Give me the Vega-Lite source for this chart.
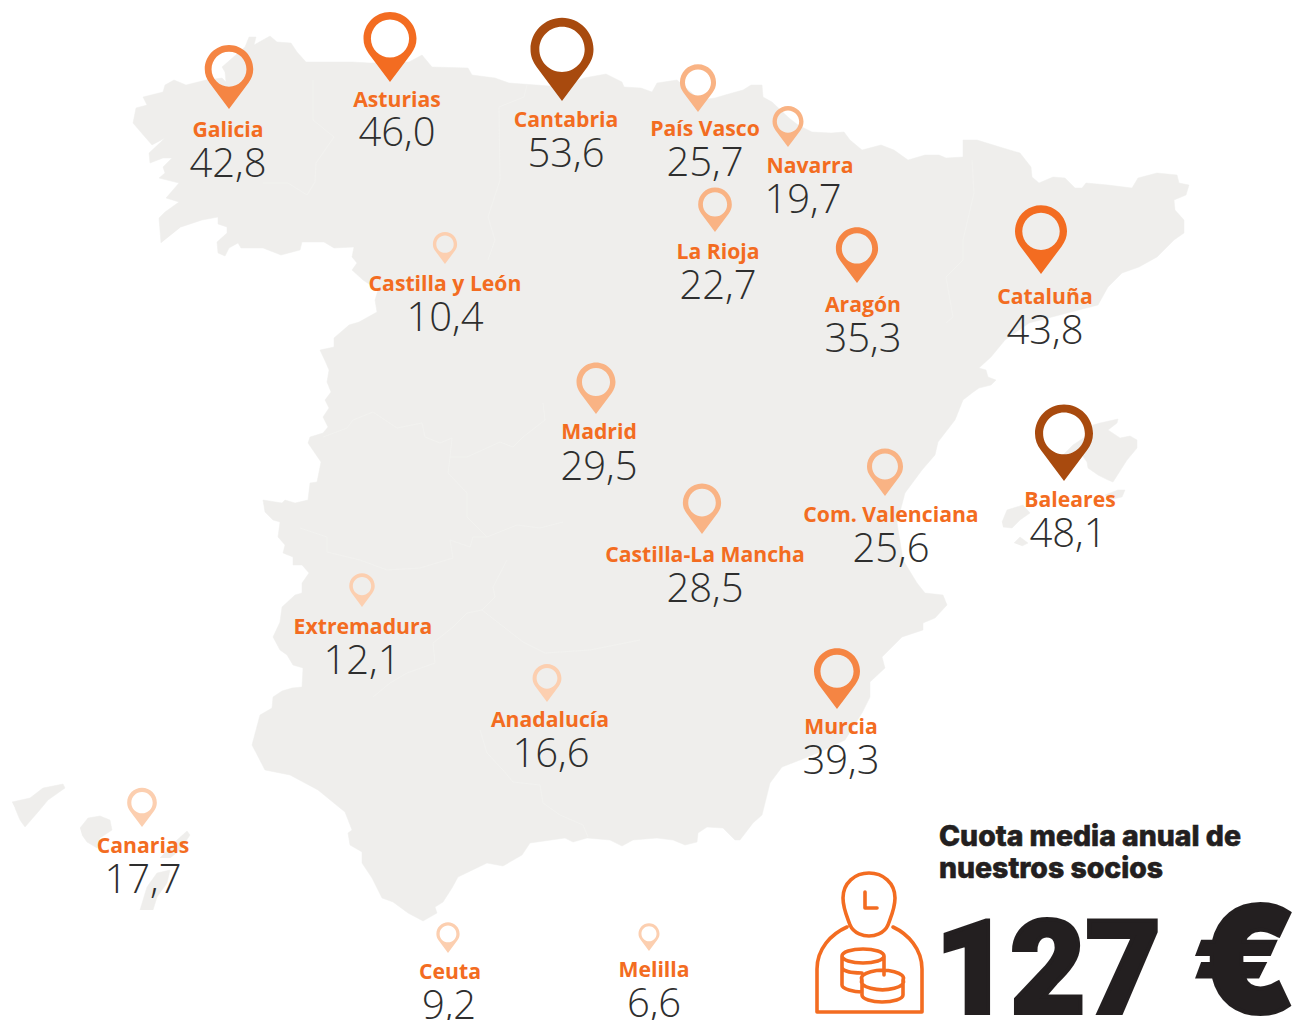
{"$schema":"https://vega.github.io/schema/vega-lite/v6.json","width":1296,"height":1020,"autosize":{"type":"none"},"padding":0,"background":"#ffffff","config":{"view":{"stroke":null},"locale":{"number":{"decimal":",","thousands":".","grouping":[3],"currency":["","€"]}}},
"datasets":{
"land":[
{"part":"Peninsula","x":161,"y":243},{"part":"Peninsula","x":159,"y":218},{"part":"Peninsula","x":165,"y":212},{"part":"Peninsula","x":179,"y":202},{"part":"Peninsula","x":166,"y":198},{"part":"Peninsula","x":179,"y":183},{"part":"Peninsula","x":159,"y":178},{"part":"Peninsula","x":165,"y":173},{"part":"Peninsula","x":163,"y":167},{"part":"Peninsula","x":172,"y":158},{"part":"Peninsula","x":163,"y":158},{"part":"Peninsula","x":150,"y":163},{"part":"Peninsula","x":149,"y":153},{"part":"Peninsula","x":165,"y":138},{"part":"Peninsula","x":152,"y":145},{"part":"Peninsula","x":145,"y":137},{"part":"Peninsula","x":133,"y":123},{"part":"Peninsula","x":136,"y":108},{"part":"Peninsula","x":147,"y":105},{"part":"Peninsula","x":143,"y":97},{"part":"Peninsula","x":163,"y":92},{"part":"Peninsula","x":165,"y":85},{"part":"Peninsula","x":174,"y":80},{"part":"Peninsula","x":186,"y":85},{"part":"Peninsula","x":206,"y":80},{"part":"Peninsula","x":222,"y":78},{"part":"Peninsula","x":226,"y":82},{"part":"Peninsula","x":225,"y":72},{"part":"Peninsula","x":222,"y":67},{"part":"Peninsula","x":238,"y":53},{"part":"Peninsula","x":245,"y":47},{"part":"Peninsula","x":249,"y":37},{"part":"Peninsula","x":256,"y":37},{"part":"Peninsula","x":254,"y":45},{"part":"Peninsula","x":270,"y":36},{"part":"Peninsula","x":277,"y":42},{"part":"Peninsula","x":291,"y":43},{"part":"Peninsula","x":297,"y":52},{"part":"Peninsula","x":306,"y":62},{"part":"Peninsula","x":352,"y":62},{"part":"Peninsula","x":370,"y":63},{"part":"Peninsula","x":409,"y":62},{"part":"Peninsula","x":422,"y":55},{"part":"Peninsula","x":432,"y":67},{"part":"Peninsula","x":468,"y":68},{"part":"Peninsula","x":472,"y":75},{"part":"Peninsula","x":495,"y":78},{"part":"Peninsula","x":509,"y":83},{"part":"Peninsula","x":563,"y":87},{"part":"Peninsula","x":584,"y":78},{"part":"Peninsula","x":606,"y":74},{"part":"Peninsula","x":622,"y":82},{"part":"Peninsula","x":624,"y":87},{"part":"Peninsula","x":641,"y":88},{"part":"Peninsula","x":652,"y":92},{"part":"Peninsula","x":657,"y":83},{"part":"Peninsula","x":677,"y":80},{"part":"Peninsula","x":700,"y":100},{"part":"Peninsula","x":715,"y":98},{"part":"Peninsula","x":725,"y":95},{"part":"Peninsula","x":743,"y":90},{"part":"Peninsula","x":751,"y":85},{"part":"Peninsula","x":762,"y":85},{"part":"Peninsula","x":763,"y":97},{"part":"Peninsula","x":772,"y":102},{"part":"Peninsula","x":789,"y":118},{"part":"Peninsula","x":798,"y":125},{"part":"Peninsula","x":812,"y":132},{"part":"Peninsula","x":831,"y":133},{"part":"Peninsula","x":844,"y":132},{"part":"Peninsula","x":850,"y":140},{"part":"Peninsula","x":862,"y":150},{"part":"Peninsula","x":881,"y":145},{"part":"Peninsula","x":894,"y":150},{"part":"Peninsula","x":908,"y":160},{"part":"Peninsula","x":925,"y":155},{"part":"Peninsula","x":939,"y":155},{"part":"Peninsula","x":946,"y":158},{"part":"Peninsula","x":963,"y":157},{"part":"Peninsula","x":963,"y":140},{"part":"Peninsula","x":977,"y":140},{"part":"Peninsula","x":1003,"y":148},{"part":"Peninsula","x":1020,"y":153},{"part":"Peninsula","x":1031,"y":167},{"part":"Peninsula","x":1032,"y":177},{"part":"Peninsula","x":1039,"y":183},{"part":"Peninsula","x":1053,"y":177},{"part":"Peninsula","x":1065,"y":178},{"part":"Peninsula","x":1075,"y":188},{"part":"Peninsula","x":1082,"y":188},{"part":"Peninsula","x":1086,"y":183},{"part":"Peninsula","x":1108,"y":185},{"part":"Peninsula","x":1132,"y":188},{"part":"Peninsula","x":1138,"y":178},{"part":"Peninsula","x":1157,"y":173},{"part":"Peninsula","x":1177,"y":175},{"part":"Peninsula","x":1179,"y":183},{"part":"Peninsula","x":1189,"y":185},{"part":"Peninsula","x":1186,"y":195},{"part":"Peninsula","x":1174,"y":200},{"part":"Peninsula","x":1175,"y":210},{"part":"Peninsula","x":1184,"y":220},{"part":"Peninsula","x":1184,"y":233},{"part":"Peninsula","x":1174,"y":240},{"part":"Peninsula","x":1157,"y":257},{"part":"Peninsula","x":1139,"y":267},{"part":"Peninsula","x":1122,"y":273},{"part":"Peninsula","x":1108,"y":287},{"part":"Peninsula","x":1098,"y":305},{"part":"Peninsula","x":1029,"y":323},{"part":"Peninsula","x":1005,"y":340},{"part":"Peninsula","x":991,"y":357},{"part":"Peninsula","x":979,"y":368},{"part":"Peninsula","x":986,"y":370},{"part":"Peninsula","x":988,"y":377},{"part":"Peninsula","x":996,"y":380},{"part":"Peninsula","x":991,"y":385},{"part":"Peninsula","x":979,"y":388},{"part":"Peninsula","x":972,"y":393},{"part":"Peninsula","x":963,"y":400},{"part":"Peninsula","x":955,"y":420},{"part":"Peninsula","x":938,"y":442},{"part":"Peninsula","x":935,"y":455},{"part":"Peninsula","x":922,"y":470},{"part":"Peninsula","x":905,"y":493},{"part":"Peninsula","x":897,"y":523},{"part":"Peninsula","x":903,"y":560},{"part":"Peninsula","x":917,"y":583},{"part":"Peninsula","x":925,"y":593},{"part":"Peninsula","x":943,"y":595},{"part":"Peninsula","x":947,"y":605},{"part":"Peninsula","x":935,"y":618},{"part":"Peninsula","x":923,"y":623},{"part":"Peninsula","x":923,"y":630},{"part":"Peninsula","x":902,"y":637},{"part":"Peninsula","x":882,"y":657},{"part":"Peninsula","x":885,"y":668},{"part":"Peninsula","x":870,"y":682},{"part":"Peninsula","x":870,"y":697},{"part":"Peninsula","x":862,"y":713},{"part":"Peninsula","x":845,"y":740},{"part":"Peninsula","x":820,"y":752},{"part":"Peninsula","x":800,"y":760},{"part":"Peninsula","x":782,"y":767},{"part":"Peninsula","x":770,"y":783},{"part":"Peninsula","x":762,"y":815},{"part":"Peninsula","x":753,"y":823},{"part":"Peninsula","x":740,"y":840},{"part":"Peninsula","x":735,"y":840},{"part":"Peninsula","x":723,"y":828},{"part":"Peninsula","x":707,"y":827},{"part":"Peninsula","x":698,"y":833},{"part":"Peninsula","x":697,"y":842},{"part":"Peninsula","x":685,"y":845},{"part":"Peninsula","x":673,"y":840},{"part":"Peninsula","x":657,"y":838},{"part":"Peninsula","x":633,"y":840},{"part":"Peninsula","x":622,"y":846},{"part":"Peninsula","x":610,"y":840},{"part":"Peninsula","x":587,"y":838},{"part":"Peninsula","x":573,"y":842},{"part":"Peninsula","x":565,"y":838},{"part":"Peninsula","x":530,"y":843},{"part":"Peninsula","x":522,"y":855},{"part":"Peninsula","x":503,"y":866},{"part":"Peninsula","x":487,"y":863},{"part":"Peninsula","x":458,"y":877},{"part":"Peninsula","x":452,"y":888},{"part":"Peninsula","x":443,"y":902},{"part":"Peninsula","x":435,"y":907},{"part":"Peninsula","x":437,"y":913},{"part":"Peninsula","x":423,"y":921},{"part":"Peninsula","x":408,"y":913},{"part":"Peninsula","x":393,"y":902},{"part":"Peninsula","x":382,"y":898},{"part":"Peninsula","x":372,"y":878},{"part":"Peninsula","x":362,"y":863},{"part":"Peninsula","x":362,"y":852},{"part":"Peninsula","x":350,"y":845},{"part":"Peninsula","x":348,"y":833},{"part":"Peninsula","x":352,"y":830},{"part":"Peninsula","x":345,"y":812},{"part":"Peninsula","x":340,"y":808},{"part":"Peninsula","x":318,"y":790},{"part":"Peninsula","x":290,"y":775},{"part":"Peninsula","x":265,"y":770},{"part":"Peninsula","x":252,"y":745},{"part":"Peninsula","x":260,"y":715},{"part":"Peninsula","x":272,"y":708},{"part":"Peninsula","x":273,"y":697},{"part":"Peninsula","x":282,"y":691},{"part":"Peninsula","x":292,"y":688},{"part":"Peninsula","x":302,"y":687},{"part":"Peninsula","x":303,"y":668},{"part":"Peninsula","x":293,"y":665},{"part":"Peninsula","x":287,"y":655},{"part":"Peninsula","x":280,"y":650},{"part":"Peninsula","x":273,"y":637},{"part":"Peninsula","x":280,"y":622},{"part":"Peninsula","x":282,"y":607},{"part":"Peninsula","x":295,"y":595},{"part":"Peninsula","x":302,"y":593},{"part":"Peninsula","x":302,"y":583},{"part":"Peninsula","x":309,"y":573},{"part":"Peninsula","x":302,"y":565},{"part":"Peninsula","x":293,"y":565},{"part":"Peninsula","x":293,"y":557},{"part":"Peninsula","x":283,"y":553},{"part":"Peninsula","x":285,"y":545},{"part":"Peninsula","x":278,"y":537},{"part":"Peninsula","x":280,"y":522},{"part":"Peninsula","x":273,"y":520},{"part":"Peninsula","x":265,"y":512},{"part":"Peninsula","x":263,"y":500},{"part":"Peninsula","x":282,"y":503},{"part":"Peninsula","x":285,"y":500},{"part":"Peninsula","x":295,"y":503},{"part":"Peninsula","x":308,"y":500},{"part":"Peninsula","x":310,"y":483},{"part":"Peninsula","x":317,"y":482},{"part":"Peninsula","x":321,"y":462},{"part":"Peninsula","x":308,"y":443},{"part":"Peninsula","x":310,"y":437},{"part":"Peninsula","x":323,"y":433},{"part":"Peninsula","x":328,"y":427},{"part":"Peninsula","x":323,"y":417},{"part":"Peninsula","x":329,"y":408},{"part":"Peninsula","x":325,"y":400},{"part":"Peninsula","x":331,"y":392},{"part":"Peninsula","x":327,"y":382},{"part":"Peninsula","x":329,"y":370},{"part":"Peninsula","x":326,"y":363},{"part":"Peninsula","x":320,"y":350},{"part":"Peninsula","x":334,"y":347},{"part":"Peninsula","x":334,"y":338},{"part":"Peninsula","x":349,"y":325},{"part":"Peninsula","x":359,"y":322},{"part":"Peninsula","x":377,"y":312},{"part":"Peninsula","x":375,"y":300},{"part":"Peninsula","x":378,"y":290},{"part":"Peninsula","x":363,"y":280},{"part":"Peninsula","x":352,"y":270},{"part":"Peninsula","x":357,"y":263},{"part":"Peninsula","x":352,"y":257},{"part":"Peninsula","x":354,"y":247},{"part":"Peninsula","x":334,"y":248},{"part":"Peninsula","x":324,"y":242},{"part":"Peninsula","x":302,"y":242},{"part":"Peninsula","x":300,"y":250},{"part":"Peninsula","x":281,"y":255},{"part":"Peninsula","x":263,"y":248},{"part":"Peninsula","x":241,"y":248},{"part":"Peninsula","x":238,"y":243},{"part":"Peninsula","x":229,"y":248},{"part":"Peninsula","x":225,"y":256},{"part":"Peninsula","x":218,"y":253},{"part":"Peninsula","x":217,"y":242},{"part":"Peninsula","x":227,"y":233},{"part":"Peninsula","x":227,"y":227},{"part":"Peninsula","x":218,"y":224},{"part":"Peninsula","x":218,"y":217},{"part":"Peninsula","x":202,"y":220},{"part":"Peninsula","x":181,"y":227},
{"part":"Mallorca","x":1063,"y":455},{"part":"Mallorca","x":1073,"y":445},{"part":"Mallorca","x":1085,"y":437},{"part":"Mallorca","x":1093,"y":425},{"part":"Mallorca","x":1100,"y":423},{"part":"Mallorca","x":1118,"y":419},{"part":"Mallorca","x":1117,"y":423},{"part":"Mallorca","x":1108,"y":430},{"part":"Mallorca","x":1120,"y":438},{"part":"Mallorca","x":1130,"y":436},{"part":"Mallorca","x":1137,"y":440},{"part":"Mallorca","x":1137,"y":448},{"part":"Mallorca","x":1127,"y":460},{"part":"Mallorca","x":1113,"y":482},{"part":"Mallorca","x":1108,"y":480},{"part":"Mallorca","x":1098,"y":475},{"part":"Mallorca","x":1088,"y":468},{"part":"Mallorca","x":1087,"y":462},{"part":"Mallorca","x":1082,"y":455},
{"part":"Menorca","x":1105,"y":495},{"part":"Menorca","x":1118,"y":490},{"part":"Menorca","x":1125,"y":490},{"part":"Menorca","x":1122,"y":497},{"part":"Menorca","x":1108,"y":500},
{"part":"Ibiza","x":1002,"y":522},{"part":"Ibiza","x":1007,"y":510},{"part":"Ibiza","x":1023,"y":505},{"part":"Ibiza","x":1030,"y":513},{"part":"Ibiza","x":1020,"y":520},{"part":"Ibiza","x":1012,"y":528},{"part":"Ibiza","x":1003,"y":527},
{"part":"Formentera","x":1014,"y":543},{"part":"Formentera","x":1020,"y":537},{"part":"Formentera","x":1028,"y":543},{"part":"Formentera","x":1022,"y":546},
{"part":"Tenerife","x":12,"y":802},{"part":"Tenerife","x":30,"y":798},{"part":"Tenerife","x":43,"y":788},{"part":"Tenerife","x":63,"y":784},{"part":"Tenerife","x":65,"y":788},{"part":"Tenerife","x":48,"y":800},{"part":"Tenerife","x":38,"y":812},{"part":"Tenerife","x":25,"y":827},{"part":"Tenerife","x":20,"y":820},{"part":"Tenerife","x":15,"y":808},
{"part":"Gran Canaria","x":80,"y":828},{"part":"Gran Canaria","x":88,"y":818},{"part":"Gran Canaria","x":100,"y":816},{"part":"Gran Canaria","x":110,"y":820},{"part":"Gran Canaria","x":112,"y":830},{"part":"Gran Canaria","x":100,"y":838},{"part":"Gran Canaria","x":97,"y":848},{"part":"Gran Canaria","x":87,"y":842},{"part":"Gran Canaria","x":82,"y":835},
{"part":"Lanzarote","x":160,"y":858},{"part":"Lanzarote","x":177,"y":840},{"part":"Lanzarote","x":187,"y":831},{"part":"Lanzarote","x":190,"y":835},{"part":"Lanzarote","x":180,"y":850},{"part":"Lanzarote","x":170,"y":858},
{"part":"Fuerteventura","x":140,"y":910},{"part":"Fuerteventura","x":147,"y":887},{"part":"Fuerteventura","x":157,"y":873},{"part":"Fuerteventura","x":170,"y":870},{"part":"Fuerteventura","x":167,"y":883},{"part":"Fuerteventura","x":157,"y":897},{"part":"Fuerteventura","x":153,"y":910}
],
"borders":[
{"b":"a","x":323,"y":437},{"b":"a","x":347,"y":428},{"b":"a","x":353,"y":420},{"b":"a","x":373,"y":412},{"b":"a","x":397,"y":428},{"b":"a","x":422,"y":423},{"b":"a","x":425,"y":437},{"b":"a","x":440,"y":443},{"b":"a","x":452,"y":438},{"b":"a","x":450,"y":457},{"b":"a","x":467,"y":457},{"b":"a","x":500,"y":442},{"b":"a","x":513,"y":447},{"b":"a","x":523,"y":437},{"b":"a","x":545,"y":420},{"b":"a","x":543,"y":403},
{"b":"b","x":450,"y":457},{"b":"b","x":448,"y":473},{"b":"b","x":467,"y":493},{"b":"b","x":467,"y":517},{"b":"b","x":487,"y":537},{"b":"b","x":517,"y":525},{"b":"b","x":540,"y":528},{"b":"b","x":563,"y":522},
{"b":"c","x":300,"y":528},{"b":"c","x":327,"y":537},{"b":"c","x":327,"y":552},{"b":"c","x":360,"y":560},{"b":"c","x":387,"y":570},{"b":"c","x":420,"y":568},{"b":"c","x":453,"y":558},{"b":"c","x":450,"y":540},{"b":"c","x":470,"y":547},{"b":"c","x":473,"y":537},{"b":"c","x":487,"y":537},
{"b":"d","x":507,"y":560},{"b":"d","x":493,"y":587},{"b":"d","x":495,"y":597},{"b":"d","x":482,"y":610},{"b":"d","x":467,"y":613},{"b":"d","x":453,"y":627},{"b":"d","x":433,"y":643},{"b":"d","x":435,"y":663},{"b":"d","x":407,"y":673},{"b":"d","x":390,"y":683},{"b":"d","x":373,"y":697},
{"b":"e","x":482,"y":610},{"b":"e","x":523,"y":642},{"b":"e","x":545,"y":653},{"b":"e","x":590,"y":650},{"b":"e","x":640,"y":640},
{"b":"f","x":480,"y":730},{"b":"f","x":487,"y":753},{"b":"f","x":503,"y":770},{"b":"f","x":513,"y":782},{"b":"f","x":540,"y":785},{"b":"f","x":543,"y":803},{"b":"f","x":560,"y":815},{"b":"f","x":583,"y":825},{"b":"f","x":588,"y":837},
{"b":"g","x":972,"y":160},{"b":"g","x":974,"y":193},{"b":"g","x":963,"y":240},{"b":"g","x":963,"y":260},{"b":"g","x":946,"y":277},{"b":"g","x":953,"y":317},{"b":"g","x":946,"y":323},
{"b":"h","x":527,"y":85},{"b":"h","x":524,"y":97},{"b":"h","x":499,"y":107},{"b":"h","x":500,"y":180},{"b":"h","x":488,"y":217},{"b":"h","x":495,"y":240},{"b":"h","x":488,"y":260},
{"b":"i","x":313,"y":80},{"b":"i","x":313,"y":120},{"b":"i","x":334,"y":137},{"b":"i","x":316,"y":163},{"b":"i","x":315,"y":182},{"b":"i","x":307,"y":195},{"b":"i","x":288,"y":183},{"b":"i","x":263,"y":183}
],
"regions":[
{"region":"Galicia","cuota":42.8,"x":229,"y":109,"lx":228,"ly":137,"vx":228,"vy":177},
{"region":"Asturias","cuota":46.0,"x":390,"y":82,"lx":397,"ly":107,"vx":397,"vy":146},
{"region":"Cantabria","cuota":53.6,"x":562,"y":101,"lx":566,"ly":127,"vx":566,"vy":167},
{"region":"País Vasco","cuota":25.7,"x":698,"y":112,"lx":705,"ly":136,"vx":705,"vy":176},
{"region":"Navarra","cuota":19.7,"x":788,"y":147,"lx":810,"ly":173,"vx":803,"vy":213},
{"region":"La Rioja","cuota":22.7,"x":715,"y":232,"lx":718,"ly":259,"vx":718,"vy":299},
{"region":"Aragón","cuota":35.3,"x":857,"y":283,"lx":863,"ly":312,"vx":863,"vy":352},
{"region":"Cataluña","cuota":43.8,"x":1041,"y":274,"lx":1045,"ly":304,"vx":1045,"vy":344},
{"region":"Castilla y León","cuota":10.4,"x":445,"y":264,"lx":445,"ly":291,"vx":445,"vy":331},
{"region":"Madrid","cuota":29.5,"x":596,"y":414,"lx":599,"ly":439,"vx":599,"vy":480},
{"region":"Castilla-La Mancha","cuota":28.5,"x":702,"y":534,"lx":705,"ly":562,"vx":705,"vy":602},
{"region":"Com. Valenciana","cuota":25.6,"x":885,"y":496,"lx":891,"ly":522,"vx":891,"vy":562},
{"region":"Baleares","cuota":48.1,"x":1064,"y":481,"lx":1070,"ly":507,"vx":1068,"vy":547},
{"region":"Extremadura","cuota":12.1,"x":362,"y":607,"lx":363,"ly":634,"vx":362,"vy":674},
{"region":"Anadalucía","cuota":16.6,"x":547,"y":702,"lx":550,"ly":727,"vx":551,"vy":767},
{"region":"Murcia","cuota":39.3,"x":837,"y":709,"lx":841,"ly":734,"vx":841,"vy":774},
{"region":"Canarias","cuota":17.7,"x":142,"y":827,"lx":143,"ly":853,"vx":143,"vy":893},
{"region":"Ceuta","cuota":9.2,"x":448,"y":953,"lx":450,"ly":979,"vx":449,"vy":1019},
{"region":"Melilla","cuota":6.6,"x":649,"y":951,"lx":654,"ly":977,"vx":654,"vy":1017}
]},
"encoding":{"x":{"type":"quantitative","scale":{"domain":[0,1296],"nice":false,"zero":false},"axis":null},"y":{"type":"quantitative","scale":{"domain":[1020,0],"nice":false,"zero":false},"axis":null}},
"layer":[
{"data":{"name":"land"},"mark":{"type":"line","fill":"#EFEEEC","stroke":"#EFEEEC","strokeWidth":0.5,"order":false,"strokeJoin":"round"},"encoding":{"x":{"field":"x","type":"quantitative"},"y":{"field":"y","type":"quantitative"},"detail":{"field":"part"}}},
{"data":{"name":"borders"},"mark":{"type":"line","stroke":"#F3F2F0","strokeWidth":0.8,"order":false},"encoding":{"x":{"field":"x","type":"quantitative"},"y":{"field":"y","type":"quantitative"},"detail":{"field":"b"}}},
{"data":{"name":"regions"},"mark":{"type":"point","filled":true,"opacity":1,"strokeWidth":0,"shape":"M0,0 L-0.8,-1.07 C-0.93,-1.25 -1,-1.42 -1,-1.64 A1,1 0 0 1 1,-1.64 C1,-1.42 0.93,-1.25 0.8,-1.07 Z M-0.72,-1.64 A0.72,0.72 0 0 0 0.72,-1.64 A0.72,0.72 0 0 0 -0.72,-1.64 Z"},"encoding":{"x":{"field":"x","type":"quantitative"},"y":{"field":"y","type":"quantitative"},"size":{"field":"cuota","type":"quantitative","legend":null,"scale":{"domain":[6.6,12.1,19.7,29.5,35.3,39.3,42.8,43.8,46,48.1,53.6],"range":[441,650,961,1521,1780,2116,2350,2704,2809,3364,3969]}},"color":{"field":"cuota","type":"quantitative","legend":null,"scale":{"type":"threshold","domain":[19,30,43,47],"range":["#FCCFB0","#F9B384","#F58543","#F36C21","#A84A0E"]}}}},
{"data":{"name":"regions"},"mark":{"type":"text","font":"Open Sans","fontWeight":700,"fontSize":21.2,"align":"center","baseline":"alphabetic","color":"#F36C21"},"encoding":{"x":{"field":"lx","type":"quantitative"},"y":{"field":"ly","type":"quantitative"},"text":{"field":"region"}}},
{"data":{"name":"regions"},"mark":{"type":"text","font":"Open Sans","fontWeight":300,"fontSize":40,"align":"center","baseline":"alphabetic","color":"#2E2E2E"},"encoding":{"x":{"field":"vx","type":"quantitative"},"y":{"field":"vy","type":"quantitative"},"text":{"field":"cuota","type":"quantitative","format":".1f"}}},
{"data":{"values":[{"x":869,"y":945}]},"mark":{"type":"point","size":4,"filled":false,"opacity":1,"stroke":"#F36C21","strokeWidth":3.6,"strokeCap":"round","strokeJoin":"round","shape":"M-22,-18 C-38,-11 -52,4 -52,24 L-52,67 L53,67 L53,24 C53,4 39,-11 24,-18 M-19,-20 C-21,-26 -26,-36 -26,-47 C-26,-62 -14,-72 0,-72 C14,-72 26,-62 26,-47 C26,-36 21,-26 19,-20 C15,-11 5,-9 0,-9 C-5,-9 -15,-11 -19,-20 Z M-4,-53 L-4,-37 L8,-37 M-27,11 A21,7 0 1 0 15,11 A21,7 0 1 0 -27,11 Z M-27,11 L-27,40 C-27,44 -15,47 -7,47 M15,11 L15,30 M-27,22 C-27,26 -18,28 -7,28 M-7,35 A21,8 0 1 0 34,35 A21,8 0 1 0 -7,35 Z M-7,35 L-7,50 C-7,54 3,57 13,57 C24,57 34,54 34,50 L34,35"},"encoding":{"x":{"field":"x","type":"quantitative"},"y":{"field":"y","type":"quantitative"}}},
{"data":{"values":[{"x":939,"y":846,"t":"Cuota media anual de"},{"x":939,"y":878,"t":"nuestros socios"}]},"mark":{"type":"text","font":"Inter","fontWeight":800,"fontSize":28.4,"stroke":"#231F20","strokeWidth":0.6,"align":"left","baseline":"alphabetic","color":"#231F20"},"encoding":{"x":{"field":"x","type":"quantitative"},"y":{"field":"y","type":"quantitative"},"text":{"field":"t"}}},
{"data":{"values":[{"x":935,"y":1013,"t":"127"}]},"mark":{"type":"text","font":"Roboto","fontWeight":900,"fontSize":130,"stroke":"#231F20","strokeWidth":4,"align":"left","baseline":"alphabetic","color":"#231F20"},"encoding":{"x":{"field":"x","type":"quantitative"},"y":{"field":"y","type":"quantitative"},"text":{"field":"t"}}},
{"data":{"values":[{"x":1297,"y":1013,"t":"€"}]},"mark":{"type":"text","font":"Inter","fontWeight":900,"fontSize":148,"stroke":"#231F20","strokeWidth":4,"align":"right","baseline":"alphabetic","color":"#231F20"},"encoding":{"x":{"field":"x","type":"quantitative"},"y":{"field":"y","type":"quantitative"},"text":{"field":"t"}}}
]}
